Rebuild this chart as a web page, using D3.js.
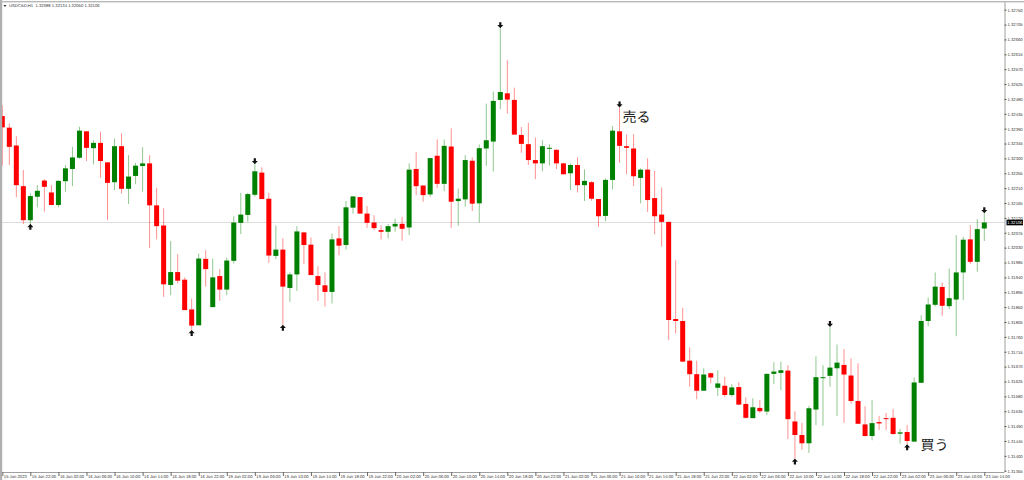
<!DOCTYPE html>
<html>

<head>
    <meta charset='utf-8'>
    <title>USDCAD,H1</title>
    <script type='text/javascript' src='https://cdn.jsdelivr.net/npm/d3@7'></script>
    <style>
        html, body { margin: 0; padding: 0; background: #fff; }
        svg { display: block; }
        text { text-rendering: geometricPrecision; }
    </style>
</head>

<body>
    <svg width='1024' height='480'></svg>
    <script type='text/javascript'>
        // 四本値 (1時間足 15 Jun 18:00 から順番)
        const opens = [
            1.32428,1.32393,1.32339,1.32216,1.32113,1.32184,1.32233,1.32197,1.32159,1.32231,
            1.32268,1.32302,1.32382,1.32331,1.32347,1.32288,1.32228,1.32337,1.32208,1.32247,
            1.32277,1.32285,1.32158,1.32097,1.31917,1.31956,1.31933,1.31843,1.31795,1.31996,
            1.31850,1.31944,1.31903,1.31990,1.32105,1.32129,1.32190,1.32257,1.32178,1.32005,
            1.32024,1.31908,1.31949,1.32076,1.32039,1.31944,1.31916,1.31896,1.32058,1.32038,
            1.32151,1.32183,1.32133,1.32106,1.32083,1.32078,1.32094,1.32102,1.32091,1.32268,
            1.32218,1.32191,1.32308,1.32223,1.32336,1.32171,1.32176,1.32293,1.32164,1.32330,
            1.32351,1.32477,1.32497,1.32477,1.32371,1.32343,1.32295,1.32285,1.32329,1.32326,
            1.32285,1.32255,1.32280,1.32219,1.32228,1.32177,1.32126,1.32235,1.32382,1.32337,
            1.32330,1.32241,1.32266,1.32180,1.32130,1.32108,1.31814,1.31808,1.31688,1.31647,
            1.31597,1.31650,1.31606,1.31612,1.31584,1.31608,1.31557,1.31514,1.31545,1.31534,
            1.31648,1.31651,1.31658,1.31504,1.31463,1.31438,1.31540,1.31636,1.31642,1.31665,
            1.31675,1.31643,1.31566,1.31495,1.31460,1.31502,1.31514,1.31515,1.31467,1.31472,
            1.31443,1.31621,1.31808,1.31857,1.31911,1.31853,1.31873,1.31955,1.32055,1.31987,1.32088
        ]
        const highs = [
            1.32461,1.32406,1.32367,1.32265,1.32194,1.32219,1.32237,1.32219,1.32234,1.32280,
            1.32335,1.32396,1.32383,1.32355,1.32381,1.32288,1.32360,1.32376,1.32310,1.32287,
            1.32334,1.32310,1.32211,1.32149,1.32050,1.32010,1.31940,1.31876,1.32012,1.32022,
            1.31997,1.31965,1.32000,1.32125,1.32196,1.32196,1.32282,1.32273,1.32196,1.32097,
            1.32058,1.31955,1.32095,1.32078,1.32061,1.31974,1.31955,1.32073,1.32095,1.32171,
            1.32185,1.32183,1.32156,1.32128,1.32098,1.32101,1.32118,1.32123,1.32285,1.32319,
            1.32218,1.32301,1.32358,1.32357,1.32391,1.32209,1.32310,1.32303,1.32342,1.32466,
            1.32502,1.32694,1.32597,1.32514,1.32395,1.32408,1.32363,1.32355,1.32343,1.32328,
            1.32287,1.32285,1.32303,1.32267,1.32231,1.32177,1.32239,1.32398,1.32454,1.32372,
            1.32373,1.32270,1.32300,1.32262,1.32212,1.32108,1.31992,1.31848,1.31728,1.31688,
            1.31665,1.31652,1.31659,1.31639,1.31617,1.31623,1.31577,1.31574,1.31569,1.31649,
            1.31683,1.31685,1.31674,1.31535,1.31500,1.31551,1.31701,1.31674,1.31790,1.31737,
            1.31723,1.31695,1.31680,1.31550,1.31569,1.31521,1.31530,1.31541,1.31481,1.31493,
            1.31637,1.31826,1.31879,1.31955,1.31924,1.31967,1.32068,1.32063,1.32098,1.32116,1.32134
        ]
        const lows = [
            1.32278,1.32280,1.32182,1.32101,1.32102,1.32152,1.32139,1.32159,1.32152,1.32199,
            1.32216,1.32299,1.32292,1.32282,1.32241,1.32113,1.32204,1.32194,1.32162,1.32222,
            1.32199,1.32029,1.32055,1.31881,1.31886,1.31922,1.31841,1.31781,1.31795,1.31912,
            1.31850,1.31869,1.31886,1.31982,1.32071,1.32108,1.32184,1.32177,1.31984,1.31995,
            1.31797,1.31866,1.31899,1.31980,1.31947,1.31869,1.31852,1.31861,1.32007,1.32024,
            1.32133,1.32133,1.32090,1.32083,1.32055,1.32058,1.32078,1.32051,1.32068,1.32189,
            1.32169,1.32184,1.32211,1.32201,1.32090,1.32096,1.32154,1.32141,1.32106,1.32277,
            1.32260,1.32449,1.32436,1.32372,1.32317,1.32280,1.32237,1.32261,1.32278,1.32268,
            1.32252,1.32204,1.32197,1.32171,1.32172,1.32093,1.32110,1.32206,1.32287,1.32252,
            1.32216,1.32164,1.32138,1.32070,1.32033,1.31750,1.31770,1.31685,1.31609,1.31571,
            1.31597,1.31619,1.31581,1.31577,1.31579,1.31553,1.31513,1.31514,1.31530,1.31523,
            1.31617,1.31599,1.31451,1.31392,1.31419,1.31409,1.31493,1.31491,1.31609,1.31520,
            1.31500,1.31558,1.31497,1.31458,1.31447,1.31478,1.31478,1.31464,1.31437,1.31435,
            1.31443,1.31621,1.31792,1.31852,1.31824,1.31844,1.31762,1.31871,1.31980,1.31957,1.32050
        ]
        const closes = [
            1.32394,1.32335,1.32219,1.32113,1.32186,1.32202,1.32214,1.32159,1.32232,1.32270,
            1.32303,1.32384,1.32332,1.32347,1.32292,1.32226,1.32337,1.32208,1.32245,1.32278,
            1.32285,1.32158,1.32095,1.31919,1.31956,1.31930,1.31841,1.31794,1.31997,1.31965,
            1.31940,1.31903,1.31991,1.32106,1.32130,1.32192,1.32261,1.32177,1.32006,1.32024,
            1.31912,1.31949,1.32079,1.32038,1.31947,1.31917,1.31896,1.32055,1.32036,1.32152,
            1.32185,1.32133,1.32105,1.32089,1.32078,1.32095,1.32102,1.32087,1.32266,1.32216,
            1.32189,1.32301,1.32223,1.32338,1.32169,1.32178,1.32295,1.32163,1.32331,1.32355,
            1.32474,1.32501,1.32478,1.32372,1.32344,1.32295,1.32285,1.32337,1.32332,1.32285,
            1.32252,1.32280,1.32219,1.32232,1.32178,1.32125,1.32235,1.32384,1.32338,1.32332,
            1.32246,1.32266,1.32174,1.32125,1.32108,1.31811,1.31808,1.31685,1.31647,1.31597,
            1.31646,1.31637,1.31619,1.31584,1.31607,1.31555,1.31515,1.31547,1.31535,1.31648,
            1.31655,1.31659,1.31511,1.31463,1.31438,1.31544,1.31638,1.31638,1.31667,1.31682,
            1.31646,1.31566,1.31497,1.31460,1.31499,1.31498,1.31511,1.31466,1.31471,1.31445,
            1.31622,1.31808,1.31858,1.31912,1.31854,1.31877,1.31955,1.32054,1.31987,1.32086,1.32106
        ]

        // 矢印の位置 (足の番号)
        const upArrows = [4, 27, 40, 113, 129]
        const downArrows = [36, 71, 88, 118, 140]

        const priceTicks = [
            1.32750,1.32705,1.32660,1.32615,1.32570,1.32525,1.32480,1.32435,1.32390,1.32345,1.32300,
            1.32255,1.32210,1.32165,1.32120,1.32075,1.32030,1.31985,1.31940,1.31895,1.31850,1.31805,
            1.31760,1.31715,1.31670,1.31625,1.31580,1.31535,1.31490,1.31445,1.31400,1.31355
        ]
        const timeLabels = [
            '15 Jun 2023','15 Jun 22:00',
            '16 Jun 02:00','16 Jun 06:00','16 Jun 10:00','16 Jun 14:00','16 Jun 18:00','16 Jun 22:00',
            '19 Jun 02:00','19 Jun 06:00','19 Jun 10:00','19 Jun 14:00','19 Jun 18:00','19 Jun 22:00',
            '20 Jun 02:00','20 Jun 06:00','20 Jun 10:00','20 Jun 14:00','20 Jun 18:00','20 Jun 22:00',
            '21 Jun 02:00','21 Jun 06:00','21 Jun 10:00','21 Jun 14:00','21 Jun 18:00','21 Jun 22:00',
            '22 Jun 02:00','22 Jun 06:00','22 Jun 10:00','22 Jun 14:00','22 Jun 18:00','22 Jun 22:00',
            '23 Jun 02:00','23 Jun 06:00','23 Jun 10:00','23 Jun 14:00'
        ]
        const timeTicks = timeLabels.map((d, i) => i * 4)

        const symbol = 'USDCAD,H1'
        const lastPrice = 1.32106
        const lastBar = opens.length - 1

        const svg = d3.select('svg')
        const axisRightX = 1004.5
        const axisBottomY = 472
        const uiFont = '"Liberation Sans", Arial, sans-serif'
        const uiSize = 4.2

        const x = d3.scaleLinear([0, lastBar], [2.3, 984.3])
        const y = d3.scaleLinear([1.31355, 1.32750], [470.7, 9.7])

        // 現在値の線
        svg.append('line')
            .attr('x1', 2).attr('x2', axisRightX)
            .attr('y1', y(lastPrice)).attr('y2', y(lastPrice))
            .attr('stroke', '#dcdcdc').attr('stroke-width', 1)

        // ローソク足
        const candles = svg.append('g').selectAll('g').data(opens).join('g')
            .attr('transform', (d, i) => `translate(${x(i)},0)`)
        const colorOf = i => closes[i] >= opens[i] ? '#008000' : '#ff0000'

        candles.append('line')
            .attr('y1', (d, i) => y(highs[i]))
            .attr('y2', (d, i) => y(lows[i]))
            .attr('stroke', (d, i) => colorOf(i))
            .attr('stroke-width', 0.8)
            .attr('stroke-opacity', 0.55)
        candles.append('rect')
            .attr('x', -2.5)
            .attr('width', 5)
            .attr('y', (d, i) => y(Math.max(opens[i], closes[i])))
            .attr('height', (d, i) => Math.max(y(Math.min(opens[i], closes[i])) - y(Math.max(opens[i], closes[i])), 1))
            .attr('fill', (d, i) => colorOf(i))

        // 矢印
        const arrowUp = 'M0,-3L3,0.3L1.1,0.3L1.1,3L-1.1,3L-1.1,0.3L-3,0.3Z'
        const arrowDown = 'M0,3L3,-0.3L1.1,-0.3L1.1,-3L-1.1,-3L-1.1,-0.3L-3,-0.3Z'
        svg.append('g').selectAll('path').data(upArrows).join('path')
            .attr('d', arrowUp)
            .attr('fill', '#111')
            .attr('transform', d => `translate(${x(d)},${y(lows[d]) + 3})`)
        svg.append('g').selectAll('path').data(downArrows).join('path')
            .attr('d', arrowDown)
            .attr('fill', '#111')
            .attr('transform', d => `translate(${x(d)},${y(highs[d]) - 3})`)

        // 右の価格軸
        const yAxis = d3.axisRight(y).tickValues(priceTicks).tickSize(2).tickPadding(1).tickFormat(d3.format('.5f'))
        const gy = svg.append('g').attr('transform', `translate(${axisRightX},0)`).call(yAxis)
        gy.select('.domain').attr('stroke', '#a0a0a0').attr('d', `M0.5,2V${axisBottomY}`)
        gy.selectAll('.tick line').attr('stroke', '#555')
        gy.selectAll('.tick text').attr('font-family', uiFont).attr('font-size', uiSize).attr('fill', '#333')

        // 下の時間軸
        const xAxis = d3.axisBottom(x).tickValues(timeTicks).tickSize(4).tickFormat((d, i) => timeLabels[i])
        const gx = svg.append('g').attr('transform', `translate(0,${axisBottomY})`).call(xAxis)
        gx.select('.domain').attr('stroke', '#a0a0a0').attr('d', `M2,0.5H${axisRightX}`)
        gx.selectAll('.tick line').attr('stroke', '#666')
        gx.selectAll('.tick text')
            .attr('font-family', uiFont).attr('font-size', uiSize).attr('fill', '#333')
            .attr('text-anchor', 'start').attr('x', 1).attr('y', 3).attr('dy', '0.71em')

        // 現在値ラベル
        svg.append('rect')
            .attr('x', 1006.5).attr('y', y(lastPrice) - 2.8)
            .attr('width', 16.5).attr('height', 5.6)
            .attr('fill', '#000')
        svg.append('text')
            .attr('x', 1007.3).attr('y', y(lastPrice))
            .attr('dy', '0.35em')
            .attr('font-family', uiFont).attr('font-size', uiSize).attr('fill', '#fff')
            .text(d3.format('.5f')(lastPrice))

        // 枠線
        svg.append('rect').attr('x', 0).attr('y', 0).attr('width', 2.2).attr('height', 480).attr('fill', '#b0b0b0')
        svg.append('rect').attr('x', 0).attr('y', 1).attr('width', 1024).attr('height', 1.4).attr('fill', '#b8b8b8')

        // 左上の情報
        svg.append('path').attr('d', 'M3.5,5H6.5L5,7Z').attr('fill', '#333')
        svg.append('text')
            .attr('x', 9).attr('y', 7.4)
            .attr('font-family', uiFont).attr('font-size', uiSize).attr('fill', '#333')
            .attr('xml:space', 'preserve')
            .text(`${symbol}  ${opens[lastBar].toFixed(5)} ${highs[lastBar].toFixed(5)} ${lows[lastBar].toFixed(5)} ${closes[lastBar].toFixed(5)}`)

        // 注釈
        const jpFont = '"Noto Sans CJK JP", sans-serif'
        svg.append('text')
            .attr('x', 622.5).attr('y', 121.5)
            .attr('font-family', jpFont).attr('font-size', 14).attr('fill', '#222')
            .text('売る')
        svg.append('text')
            .attr('x', 920.5).attr('y', 449.5)
            .attr('font-family', jpFont).attr('font-size', 14).attr('fill', '#222')
            .text('買う')
    </script>
</body>

</html>
